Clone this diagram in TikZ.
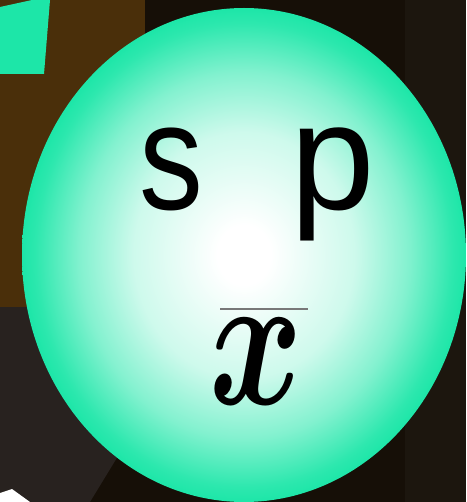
\documentclass[tikz,border=0pt]{standalone}
\usepackage{fontspec}
\setmainfont{Liberation Serif}
\newfontfamily\labsans{Liberation Sans}
\definecolor{tealc}{RGB}{29,230,168}
\definecolor{bgdark}{RGB}{22,15,7}
\definecolor{bgright}{RGB}{28,22,14}
\definecolor{bgbrown}{RGB}{74,47,10}
\definecolor{bggrey}{RGB}{40,34,31}
\definecolor{barc}{RGB}{120,120,120}
\pgfdeclareradialshading{ballshade}{\pgfpoint{0bp}{0bp}}{%
  color(0bp)=(white); color(3bp)=(white);
  color(12.5bp)=(tealc!22!white); color(18.5bp)=(tealc!55!white);
  color(23.5bp)=(tealc!93!white); color(25bp)=(tealc); color(50bp)=(tealc)}
\tikzset{
  bigsans/.style={font=\labsans\fontsize{152}{152}\selectfont, inner sep=0pt, anchor=base west, text=black},
  bigmath/.style={font=\normalsize\boldmath, inner sep=0pt, anchor=base west, text=black, xscale=14.2, yscale=19.3}
}
\begin{document}
\begin{tikzpicture}[x=1pt,y=-1pt]
\useasboundingbox (0,0) rectangle (466,502);
% background
\fill[bgdark] (0,0) rectangle (466,502);
\fill[bgright] (405,0) rectangle (466,502);
\fill[bgbrown] (0,0) rectangle (145,307);
\fill[bggrey] (0,307) -- (140,307) -- (140,420) -- (90,502) -- (0,502) -- cycle;
% teal quad top-left
\fill[tealc] (0,7) -- (32,0) -- (50,0) -- (44,74) -- (0,74) -- cycle;
% white shape bottom-left
\fill[white] (0,493) -- (12,489) -- (30,502) -- (0,502) -- cycle;
% ball
\path[shading=ballshade] (244,255) ellipse [x radius=222, y radius=247];
\node (ball) at (244,255) {};
% labels
\node[bigsans, xscale=0.84] (s) at (139,210) {s};
\node[bigsans] (p) at (290,210) {p};
\node[bigmath] (xbar) at (207,404) {$x$};
\draw[barc, line width=1.6pt] (220,309) -- (308,309);
\end{tikzpicture}
\end{document}
